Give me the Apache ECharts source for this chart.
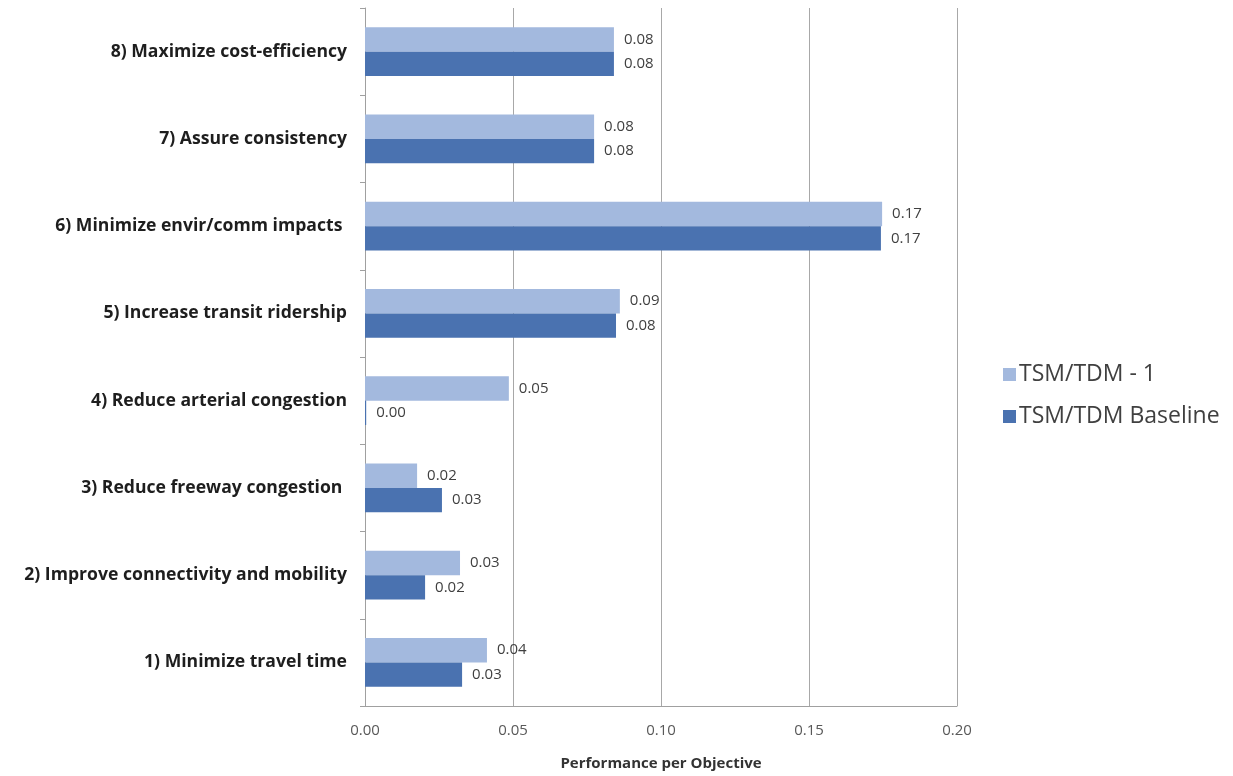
<!DOCTYPE html>
<html><head><meta charset="utf-8">
<script src="https://cdn.jsdelivr.net/npm/echarts@6/dist/echarts.min.js"></script>
<style>html,body{margin:0;padding:0;background:#fff}#c{width:1233px;height:776px}</style>
</head><body><div id="c"></div>
<script>
const categories = ["1) Minimize travel time","2) Improve connectivity and mobility","3) Reduce freeway congestion ","4) Reduce arterial congestion","5) Increase transit ridership","6) Minimize envir/comm impacts ","7) Assure consistency","8) Maximize cost-efficiency"];
const tsm1 = [0.0412, 0.0321, 0.0176, 0.0486, 0.0861, 0.1747, 0.0774, 0.0841];
const baseline = [0.0328, 0.0203, 0.0260, 0.0004, 0.0848, 0.1743, 0.0774, 0.0841];
const xTicks = {min: 0, max: 0.2, interval: 0.05};
const seriesNames = ["TSM/TDM - 1", "TSM/TDM Baseline"];

const font = "'Open Sans', sans-serif";
const chart = echarts.init(document.getElementById('c'), null, {renderer: 'canvas'});
const lbl = {show: true, position: 'right', distance: 10, formatter: p => p.value.toFixed(2), color: '#404040', fontSize: 15, fontFamily: font};
chart.setOption({
  animation: false,
  backgroundColor: '#fff',
  grid: {left: 365, right: 276, top: 8, bottom: 70, containLabel: false},
  legend: {
    data: seriesNames, orient: 'vertical', left: 998, top: 358, itemWidth: 13, itemHeight: 13, itemGap: 19,
    icon: 'rect', textStyle: {fontSize: 23, color: '#404040', fontFamily: font, padding: [0, 0, 0, -2]}
  },
  xAxis: {
    type: 'value', min: xTicks.min, max: xTicks.max, interval: xTicks.interval,
    name: 'Performance per Objective', nameLocation: 'middle', nameGap: 50,
    nameTextStyle: {fontSize: 15, fontWeight: 'bold', color: '#333', fontFamily: font},
    axisLabel: {formatter: v => v.toFixed(2), fontSize: 15, color: '#595959', margin: 17, fontFamily: font},
    axisLine: {show: true, lineStyle: {color: '#a0a0a0'}},
    axisTick: {show: false},
    splitLine: {show: true, lineStyle: {color: '#a8a8a8'}}
  },
  yAxis: {
    type: 'category', data: categories,
    axisLabel: {fontSize: 17.6, fontWeight: 'bold', color: '#1e1e1e', margin: 18, fontFamily: font},
    axisLine: {show: true, lineStyle: {color: '#a0a0a0'}},
    axisTick: {show: true, length: 5, inside: false, lineStyle: {color: '#a0a0a0'}}
  },
  series: [
    {name: seriesNames[0], type: 'bar', data: tsm1, itemStyle: {color: '#a3b9de'}, barGap: '0%', barCategoryGap: '44%', label: lbl},
    {name: seriesNames[1], type: 'bar', data: baseline, itemStyle: {color: '#4a72b0'}, barGap: '0%', barCategoryGap: '44%', label: lbl}
  ]
});
</script></body></html>
